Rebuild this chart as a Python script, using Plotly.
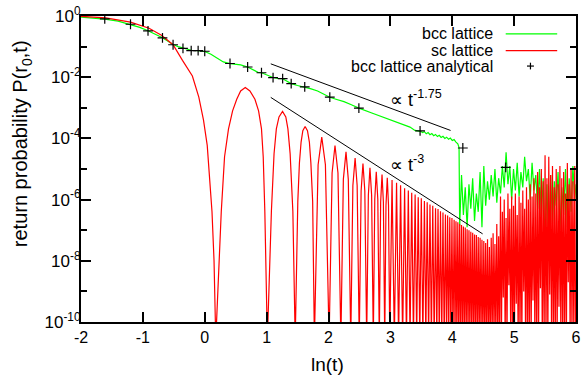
import plotly.graph_objects as go

# ---------------- data ----------------
# bcc lattice (green) : ln(t) and log10 P
bcc_main_x = [-2.0, -1.8, -1.616, -1.4, -1.2, -1.05, -0.917, -0.8, -0.683, -0.6, -0.512, -0.43,
              -0.352, -0.219, -0.107, 0.0, 0.1, 0.2, 0.3, 0.408, 0.5, 0.58, 0.693, 0.78, 0.86,
              0.917, 1.0, 1.104, 1.18, 1.259, 1.33, 1.397, 1.5, 1.616, 1.72, 1.824, 1.92, 2.021,
              2.12, 2.25, 2.37, 2.491, 2.7, 2.89, 3.1, 3.317, 3.397, 3.488]
bcc_main_logp = [-0.04, -0.07, -0.10, -0.17, -0.27, -0.37, -0.48, -0.59, -0.71, -0.82, -0.93, -1.0,
                 -1.05, -1.12, -1.135, -1.16, -1.25, -1.38, -1.50, -1.555, -1.57, -1.60, -1.667, -1.76, -1.84,
                 -1.855, -1.92, -2.01, -2.04, -2.05, -2.13, -2.21, -2.27, -2.32, -2.38, -2.45, -2.55, -2.655,
                 -2.72, -2.80, -2.90, -3.01, -3.17, -3.31, -3.47, -3.63, -3.74, -3.77]
bcc_wiggle_x = [3.52, 3.55, 3.58, 3.61, 3.64, 3.67, 3.70, 3.73, 3.76, 3.79, 3.82, 3.85, 3.88,
                3.91, 3.94, 3.97, 4.00, 4.03, 4.06, 4.09, 4.11]
bcc_wiggle_logp = [-3.81, -3.78, -3.85, -3.81, -3.88, -3.84, -3.91, -3.87, -3.94, -3.90, -3.97, -3.93, -4.00,
                   -3.96, -4.03, -3.99, -4.07, -4.04, -4.12, -4.18, -4.30]
bcc_noise_x = [4.12, 4.15, 4.18, 4.21, 4.24, 4.27, 4.30, 4.33, 4.36, 4.39, 4.42, 4.45, 4.48, 4.51,
               4.54, 4.57, 4.60, 4.63, 4.66, 4.69, 4.72, 4.75, 4.78, 4.81, 4.84, 4.87, 4.90, 4.93,
               4.96, 4.99, 5.02, 5.05, 5.08, 5.11, 5.14, 5.17, 5.20, 5.23, 5.26, 5.29, 5.32, 5.35,
               5.38, 5.41, 5.44, 5.47, 5.50, 5.53, 5.56, 5.59, 5.62, 5.65, 5.68, 5.71, 5.74, 5.77,
               5.80, 5.83, 5.86, 5.89, 5.92, 5.95, 5.98, 6.0]
bcc_noise_logp = [-6.87, -5.2, -6.5, -5.6, -6.9, -5.5, -6.3, -5.3, -6.7, -5.8, -6.4, -5.1, -6.9, -4.9,
                  -6.2, -5.4, -6.0, -5.2, -5.9, -5.0, -6.1, -5.3, -5.8, -4.9, -5.6, -4.45, -5.5, -4.9,
                  -6.0, -5.0, -5.7, -4.8, -5.9, -5.1, -5.6, -4.6, -5.4, -5.0, -6.0, -4.8, -5.7, -5.2,
                  -6.3, -5.0, -6.6, -5.3, -7.4, -5.5, -7.9, -5.2, -6.8, -5.4, -6.2, -5.1, -7.0, -5.6,
                  -6.5, -5.0, -6.9, -5.3, -6.4, -4.9, -6.0, -5.5]

# sc lattice (red): resolved arches
sc_arch_x = [-2.0, -1.6, -1.2, -0.9, -0.7, -0.512, -0.36, -0.2, -0.096, -0.02, 0.04, 0.117, 0.15, 0.178,
             0.267, 0.32, 0.384, 0.45, 0.517, 0.58, 0.655, 0.73, 0.811, 0.87, 0.917, 0.945, 0.971, 1.012,
             1.077, 1.12, 1.157, 1.2, 1.257, 1.31, 1.344, 1.38, 1.424, 1.462,
             1.504, 1.53, 1.557, 1.585, 1.622, 1.66, 1.691, 1.715, 1.744, 1.772,
             1.832, 1.891, 1.95, 2.01,
             2.058, 2.105, 2.153, 2.20,
             2.24, 2.283, 2.32, 2.36,
             2.394, 2.43, 2.463, 2.497,
             2.527, 2.557, 2.587, 2.617,
             2.644, 2.67, 2.697, 2.724,
             2.748, 2.772, 2.797, 2.821,
             2.843, 2.865, 2.887, 2.909,
             2.929, 2.95, 2.97, 2.99,
             3.027, 3.064]
sc_arch_logp = [-0.01, -0.06, -0.2, -0.4, -0.63, -0.94, -1.45, -1.96, -2.65, -3.4, -4.23, -6.39, -8.0, -10.6,
                -6.39, -4.6, -3.69, -3.1, -2.72, -2.45, -2.34, -2.45, -2.72, -3.1, -3.69, -4.6, -6.39, -10.6,
                -6.39, -4.5, -3.69, -3.3, -3.12, -3.3, -3.69, -4.5, -6.39, -10.6,
                -6.06, -4.8, -4.12, -3.75, -3.61, -3.75, -4.12, -4.8, -6.06, -10.6,
                -4.86, -3.96, -4.86, -10.6,
                -5.13, -4.23, -5.13, -10.6,
                -5.34, -4.44, -5.34, -10.6,
                -5.54, -4.64, -5.54, -10.6,
                -5.72, -4.82, -5.72, -10.6,
                -5.86, -4.96, -5.86, -10.6,
                -5.99, -5.09, -5.99, -10.6,
                -6.08, -5.18, -6.08, -10.6,
                -6.19, -5.29, -6.19, -10.6,
                -5.36, -10.6]
# sc lattice: dense oscillations (peak / zero pairs)
sc_dense_x = [3.10, 3.133, 3.165, 3.198, 3.23, 3.26, 3.29, 3.318, 3.345, 3.373, 3.40, 3.425,
              3.45, 3.475, 3.50, 3.525, 3.55, 3.573, 3.595, 3.618, 3.64, 3.663, 3.685, 3.708,
              3.73, 3.75, 3.77, 3.79, 3.81, 3.83, 3.85, 3.87, 3.89, 3.908, 3.925, 3.943,
              3.96, 3.978, 3.995, 4.012]
sc_dense_logp = [-5.45, -10.6, -5.53, -10.6, -5.63, -10.6, -5.70, -10.6, -5.78, -10.6, -5.83, -10.6,
                 -5.92, -10.6, -5.96, -10.6, -6.05, -10.6, -6.09, -10.6, -6.16, -10.6, -6.20, -10.6,
                 -6.28, -10.6, -6.31, -10.6, -6.38, -10.6, -6.42, -10.6, -6.49, -10.6, -6.52, -10.6,
                 -6.58, -10.6, -6.60, -10.6]
sc_tail_peak_x = [4.03, 4.06, 4.09, 4.12, 4.15, 4.18, 4.21, 4.24, 4.27, 4.30, 4.33, 4.36, 4.39,
                  4.42, 4.45, 4.48, 4.51, 4.54, 4.57, 4.60, 4.63, 4.66, 4.69, 4.72, 4.75,
                  4.78, 4.81, 4.84, 4.87, 4.90, 4.93, 4.96, 4.99, 5.02, 5.05, 5.08, 5.11, 5.14,
                  5.17, 5.20, 5.23, 5.26, 5.29, 5.32, 5.35, 5.38, 5.41, 5.44, 5.47, 5.50, 5.53,
                  5.56, 5.59, 5.62, 5.65, 5.68, 5.71, 5.74, 5.77, 5.80, 5.83, 5.86, 5.89, 5.92,
                  5.95, 5.98]
sc_tail_peak_logp = [-6.66, -6.71, -6.74, -6.80, -6.83, -6.88, -6.91, -6.97, -7.00, -7.05, -7.08, -7.14, -7.16,
                     -7.22, -7.25, -7.31, -7.35, -7.42, -7.30, -7.55, -7.25, -7.10, -7.45, -6.80, -7.20,
                     -5.90, -6.40, -6.00, -6.60, -5.80, -6.30, -5.90, -6.20, -5.80, -6.50, -5.90, -6.10, -5.70,
                     -6.30, -5.60, -6.00, -5.50, -5.90, -5.30, -5.80, -5.10, -5.60, -5.00, -5.40, -4.55, -5.30,
                     -4.60, -5.20, -4.90, -5.60, -5.00, -5.50, -4.90, -5.30, -5.10, -5.80, -4.80, -5.50, -5.00,
                     -5.40, -4.90]
sc_tail_zero_x = [4.045, 4.075, 4.105, 4.135, 4.165, 4.195, 4.225, 4.255, 4.285, 4.315, 4.345, 4.375, 4.405,
                  4.435, 4.465, 4.495, 4.525, 4.555, 4.585, 4.615, 4.645, 4.675, 4.705, 4.735, 4.765,
                  4.795, 4.825, 4.855, 4.885, 4.915, 4.945, 4.975, 5.005, 5.035, 5.065, 5.095, 5.125, 5.155,
                  5.185, 5.215, 5.245, 5.275, 5.305, 5.335, 5.365, 5.395, 5.425, 5.455, 5.485, 5.515, 5.545,
                  5.575, 5.605, 5.635, 5.665, 5.695, 5.725, 5.755, 5.785, 5.815, 5.845, 5.875, 5.905, 5.935,
                  5.965, 5.995]
sc_tail_zero_logp = [-10.6, -10.6, -10.6, -10.6, -10.6, -10.6, -10.6, -10.6, -10.6, -10.6, -10.6, -10.6, -10.6,
                     -10.6, -10.6, -10.6, -10.6, -10.6, -10.6, -10.6, -10.6, -10.6, -10.6, -10.6, -10.6,
                     -10.6, -9.2, -10.6, -10.6, -8.8, -10.6, -10.6, -10.6, -9.4, -10.6, -10.6, -10.6, -9.0,
                     -10.6, -10.6, -10.6, -10.6, -9.3, -10.6, -10.6, -10.6, -8.9, -10.6, -10.6, -10.6, -10.6,
                     -9.1, -10.6, -10.6, -10.6, -10.6, -9.5, -10.6, -10.6, -10.6, -10.6, -8.7, -10.6, -10.6,
                     -10.6, -10.6]

# bcc lattice analytical (+ markers)
ana_x = [-1.616, -1.2, -0.917, -0.683, -0.512, -0.352, -0.219, -0.107, 0.0, 0.408, 0.693, 0.917,
         1.104, 1.259, 1.397, 1.616, 2.021, 2.491, 3.48, 4.171, 4.864]
ana_logp = [-0.097, -0.269, -0.485, -0.712, -0.939, -1.055, -1.133, -1.133, -1.152, -1.553, -1.667, -1.854,
            -2.016, -2.049, -2.21, -2.317, -2.654, -3.01, -3.757, -4.314, -4.95]

# power-law guide lines
pl175_x = [1.067, 3.973]
pl175_logp = [-1.563, -3.74]
pl3_x = [1.067, 4.491]
pl3_logp = [-2.66, -7.12]

# axis ticks
x_ticks = [-2, -1, 0, 1, 2, 3, 4, 5, 6]
y_major_exp = [0, -2, -4, -6, -8, -10]
y_minor_exp = [-1, -3, -5, -7, -9]

# ---------------- build ----------------
def pw(v):
    return [10 ** e for e in v]

green_x = bcc_main_x + bcc_wiggle_x + bcc_noise_x
green_y = pw(bcc_main_logp + bcc_wiggle_logp + bcc_noise_logp)

tail_x, tail_lp = [], []
for px, pl, zx, zl in zip(sc_tail_peak_x, sc_tail_peak_logp, sc_tail_zero_x, sc_tail_zero_logp):
    tail_x += [px, zx]
    tail_lp += [pl, zl]
red_x = sc_arch_x + sc_dense_x + tail_x
red_y = pw(sc_arch_logp + sc_dense_logp + tail_lp)

FONT = "Liberation Sans, Arial, sans-serif"
fig = go.Figure()
fig.add_trace(go.Scatter(x=green_x, y=green_y, mode="lines",
                         line=dict(color="#00ff00", width=1.2), name="bcc lattice"))
fig.add_trace(go.Scatter(x=red_x, y=red_y, mode="lines",
                         line=dict(color="#ff0000", width=1.2), name="sc lattice"))
fig.add_trace(go.Scatter(x=ana_x, y=pw(ana_logp), mode="markers",
                         marker=dict(symbol="cross-thin", size=7, line=dict(color="black", width=1.2)),
                         name="bcc lattice analytical"))
fig.add_trace(go.Scatter(x=pl175_x, y=pw(pl175_logp), mode="lines",
                         line=dict(color="black", width=1)))
fig.add_trace(go.Scatter(x=pl3_x, y=pw(pl3_logp), mode="lines",
                         line=dict(color="black", width=1)))

fig.update_layout(
    width=585, height=379,
    margin=dict(l=81, r=4, t=13, b=57),
    plot_bgcolor="white", paper_bgcolor="white",
    showlegend=False,
    font=dict(family=FONT, size=16, color="black"),
)
fig.update_xaxes(range=[-2, 6], tickvals=x_ticks, ticktext=[str(v) for v in x_ticks],
                 ticks="inside", ticklen=10, tickwidth=1.5, tickcolor="black",
                 showline=True, linewidth=2, linecolor="black", mirror="ticks",
                 showgrid=False, zeroline=False, tickfont=dict(size=16))
fig.update_yaxes(type="log", range=[-10, 0],
                 tickvals=[10 ** e for e in y_major_exp],
                 ticktext=["10<sup>%d</sup>" % e for e in y_major_exp],
                 ticks="inside", ticklen=10, tickwidth=1.5, tickcolor="black",
                 ticklabelstandoff=-5,
                 minor=dict(tickvals=[10 ** e for e in y_minor_exp], ticks="inside",
                            ticklen=6, tickwidth=1.5, tickcolor="black", showgrid=False),
                 showline=True, linewidth=2, linecolor="black", mirror="ticks",
                 showgrid=False, zeroline=False, tickfont=dict(size=17))

ann = []
# axis titles
ann.append(dict(text="ln(t)", xref="paper", yref="paper", x=0.498, y=-0.139,
                showarrow=False, xanchor="center", yanchor="middle", font=dict(size=19)))
ann.append(dict(text="return probability P(r<sub>0</sub>,t)", xref="paper", yref="paper",
                x=-0.1186, y=0.582, textangle=-90, showarrow=False,
                xanchor="center", yanchor="middle", font=dict(size=20)))
# power-law labels
ann.append(dict(text="\u221d t<sup>-1.75</sup>", x=3.416, y=-2.70, xref="x", yref="y",
                showarrow=False, xanchor="center", yanchor="middle", font=dict(size=18)))
ann.append(dict(text="\u221d t<sup>-3</sup>", x=3.264, y=-4.83, xref="x", yref="y",
                showarrow=False, xanchor="center", yanchor="middle", font=dict(size=18)))
# legend (gnuplot style: text right-aligned, sample to the right)
leg_labels = ["bcc lattice", "sc lattice", "bcc lattice analytical"]
leg_y = [0.9418, 0.8868, 0.8364]
for lab, yy in zip(leg_labels, leg_y):
    ann.append(dict(text=lab, xref="paper", yref="paper", x=0.836, y=yy, showarrow=False,
                    xanchor="right", yanchor="middle", font=dict(size=16)))
fig.update_layout(annotations=ann)

shapes = [
    dict(type="line", xref="paper", yref="paper", x0=0.858, x1=0.962, y0=leg_y[0], y1=leg_y[0],
         line=dict(color="#00ff00", width=1.2)),
    dict(type="line", xref="paper", yref="paper", x0=0.858, x1=0.962, y0=leg_y[1], y1=leg_y[1],
         line=dict(color="#ff0000", width=1.2)),
    dict(type="line", xref="paper", yref="paper", x0=0.908 - 0.007, x1=0.908 + 0.007,
         y0=leg_y[2], y1=leg_y[2], line=dict(color="black", width=1.2)),
    dict(type="line", xref="paper", yref="paper", x0=0.908, x1=0.908,
         y0=leg_y[2] - 0.011, y1=leg_y[2] + 0.011, line=dict(color="black", width=1.2)),
]
fig.update_layout(shapes=shapes)

fig.write_html("out.html")
